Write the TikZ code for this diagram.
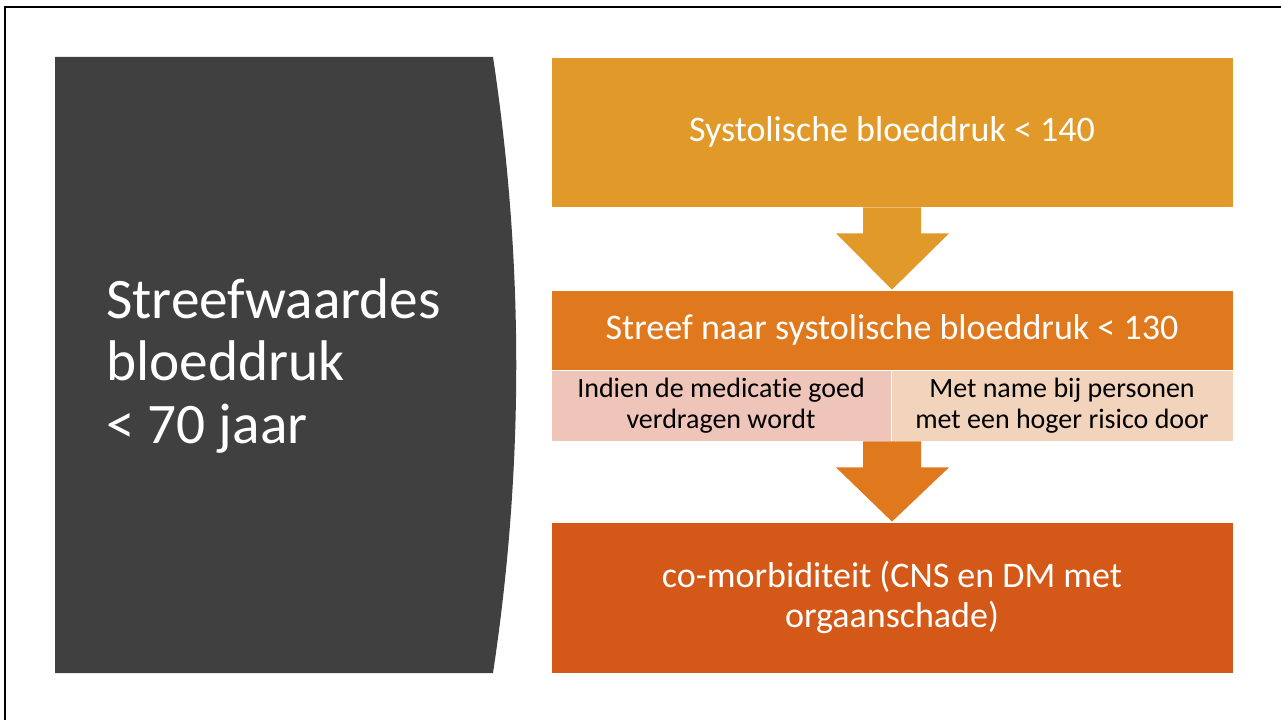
\documentclass[tikz,border=0pt]{standalone}
\usepackage{fontspec}
\setmainfont{Carlito}[Ligatures=CommonOff]
\usepackage{xcolor}
\definecolor{cPanel}{HTML}{404040}
\definecolor{cTop}{HTML}{E19A29}
\definecolor{cMid}{HTML}{E0791E}
\definecolor{cLow}{HTML}{D45918}
\definecolor{cSubA}{HTML}{EEC5B8}
\definecolor{cSubB}{HTML}{F2D4BC}
\usepackage{tikz}
\usetikzlibrary{positioning,calc}
\tikzset{
  node-step/.style={draw=white,line width=0.6pt,inner sep=0pt,align=center,
    minimum width=511.5pt,text=white,font=\fontsize{27}{29.5}\selectfont},
  node-sub/.style={draw=white,line width=0.6pt,inner sep=0pt,align=center,
    minimum height=53.25pt,text=black,font=\fontsize{21}{23.5}\selectfont},
  node-title/.style={anchor=west,align=left,text=white,inner sep=0pt,
    font=\fontsize{43}{47}\selectfont},
}
\begin{document}
\begin{tikzpicture}[x=0.75pt,y=-0.75pt]
  \useasboundingbox (0,0) rectangle (1281,720);
  % kader
  \draw[line width=1.5pt] (5,720) -- (5,7) -- (1281,7);
  % donker paneel links
  \fill[cPanel] (55,57) -- (493,57)
    .. controls (524,262) and (524,468) .. (493,673) -- (55,673) -- cycle;
  \node[node-title] (title) at (106,366) {Streefwaardes\\bloeddruk\\< 70 jaar};
  % stappen
  \node[node-step,fill=cTop,minimum height=112.5pt] (syst) at (892,132)
    {Systolische bloeddruk < 140};
  \node[node-step,fill=cMid,minimum height=60pt] (streef) at (892,330)
    {Streef naar systolische bloeddruk < 130};
  \node[node-sub,fill=cSubA,minimum width=255pt] (indien) at (721,405.5)
    {Indien de medicatie goed\\verdragen wordt};
  \node[node-sub,fill=cSubB,minimum width=256.5pt] (name) at (1062,405.5)
    {Met name bij personen\\met een hoger risico door};
  \node[node-step,fill=cLow,minimum height=113.25pt] (comorb) at (892,597.5)
    {co-morbiditeit (CNS en DM met\\orgaanschade)};
  % pijlen
  \fill[cTop] ($(syst.south)+(-29,0)$) -- ++(0,26) -- ++(-27,0)
    -- (streef.north) -- ($(syst.south)+(57,26)$) -- ++(-28,0)
    -- ($(syst.south)+(29,0)$) -- cycle;
  \fill[cMid] ($(comorb.north |- indien.south)+(-29,0)$) -- ++(0,26) -- ++(-27,0)
    -- (comorb.north) -- ($(comorb.north |- indien.south)+(57,26)$) -- ++(-28,0)
    -- ($(comorb.north |- indien.south)+(29,0)$) -- cycle;
\end{tikzpicture}
\end{document}
